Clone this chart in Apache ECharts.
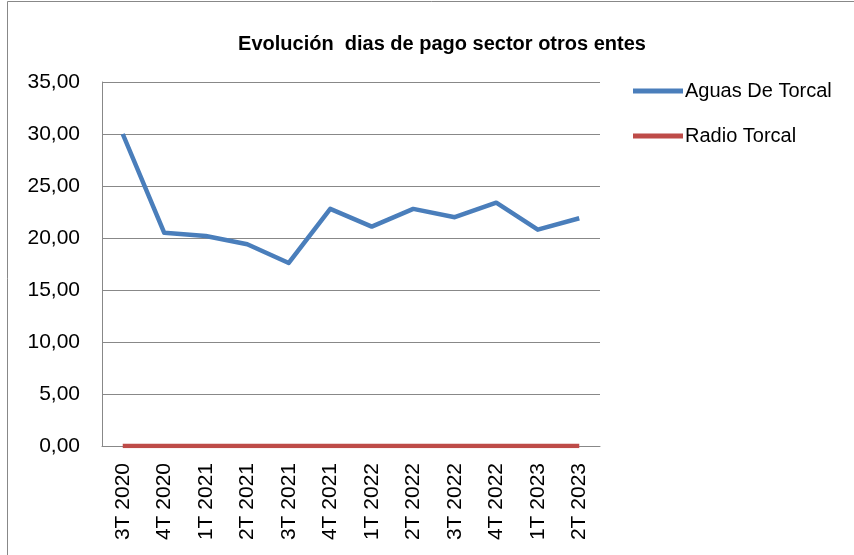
<!DOCTYPE html>
<html>
<head>
<meta charset="utf-8">
<script src="https://cdn.jsdelivr.net/npm/echarts@6/dist/echarts.min.js"></script>
<style>
  html, body { margin: 0; padding: 0; background: #fff; }
  #chart { width: 854px; height: 555px; }
</style>
</head>
<body>
<div id="chart"></div>
<script>
// datos
var trimestres = ['3T 2020', '4T 2020', '1T 2021', '2T 2021', '3T 2021', '4T 2021',
                  '1T 2022', '2T 2022', '3T 2022', '4T 2022', '1T 2023', '2T 2023'];
var aguasDeTorcal = [30.0, 20.5, 20.2, 19.4, 17.6, 22.8, 21.1, 22.8, 22.0, 23.4, 20.8, 21.9];
var radioTorcal = [0, 0, 0, 0, 0, 0, 0, 0, 0, 0, 0, 0];

var fuente = "'Liberation Sans', 'DejaVu Sans', sans-serif";

var myChart = echarts.init(document.getElementById('chart'), null, { renderer: 'canvas' });

var option = {
  backgroundColor: '#fff',
  animation: false,
  title: {
    text: 'Evolución  dias de pago sector otros entes',
    left: 437,
    textAlign: 'center',
    top: 29,
    textStyle: { fontFamily: fuente, fontSize: 20, fontWeight: 'bold', color: '#000' }
  },
  // marco exterior
  graphic: [{
    type: 'rect',
    shape: { x: 7.5, y: 1.5, width: 900, height: 600 },
    style: { fill: 'none', stroke: '#888', lineWidth: 1 },
    silent: true
  }],
  legend: {
    orient: 'vertical',
    left: 628,
    top: 76,
    itemWidth: 50,
    itemHeight: 5,
    itemGap: 25,
    icon: 'rect',
    textStyle: { fontFamily: fuente, fontSize: 20, color: '#000', padding: [0, 0, 0, -3] },
    data: ['Aguas De Torcal', 'Radio Torcal']
  },
  grid: { left: 102, right: 254, top: 82, bottom: 109 },
  xAxis: {
    type: 'category',
    data: trimestres,
    boundaryGap: true,
    axisLine: { lineStyle: { color: '#888', width: 1 } },
    axisTick: { show: false },
    axisLabel: {
      rotate: 90,
      fontFamily: fuente,
      fontSize: 21,
      color: '#000',
      margin: 17
    }
  },
  yAxis: {
    type: 'value',
    min: 0,
    max: 35,
    interval: 5,
    axisLine: { show: true, lineStyle: { color: '#888', width: 1 } },
    axisTick: { show: false },
    splitLine: { lineStyle: { color: '#888', width: 1 } },
    axisLabel: {
      fontFamily: fuente,
      fontSize: 21,
      color: '#000',
      margin: 22,
      formatter: function (v) { return v.toFixed(2).replace('.', ','); }
    }
  },
  series: [
    {
      name: 'Aguas De Torcal',
      type: 'line',
      data: aguasDeTorcal,
      symbol: 'none',
      itemStyle: { color: '#4A7EBB' },
      lineStyle: { color: '#4A7EBB', width: 4.5, join: 'round' }
    },
    {
      name: 'Radio Torcal',
      type: 'line',
      data: radioTorcal,
      symbol: 'none',
      itemStyle: { color: '#BE4B48' },
      lineStyle: { color: '#BE4B48', width: 4.5 }
    }
  ]
};

myChart.setOption(option);
</script>
</body>
</html>
